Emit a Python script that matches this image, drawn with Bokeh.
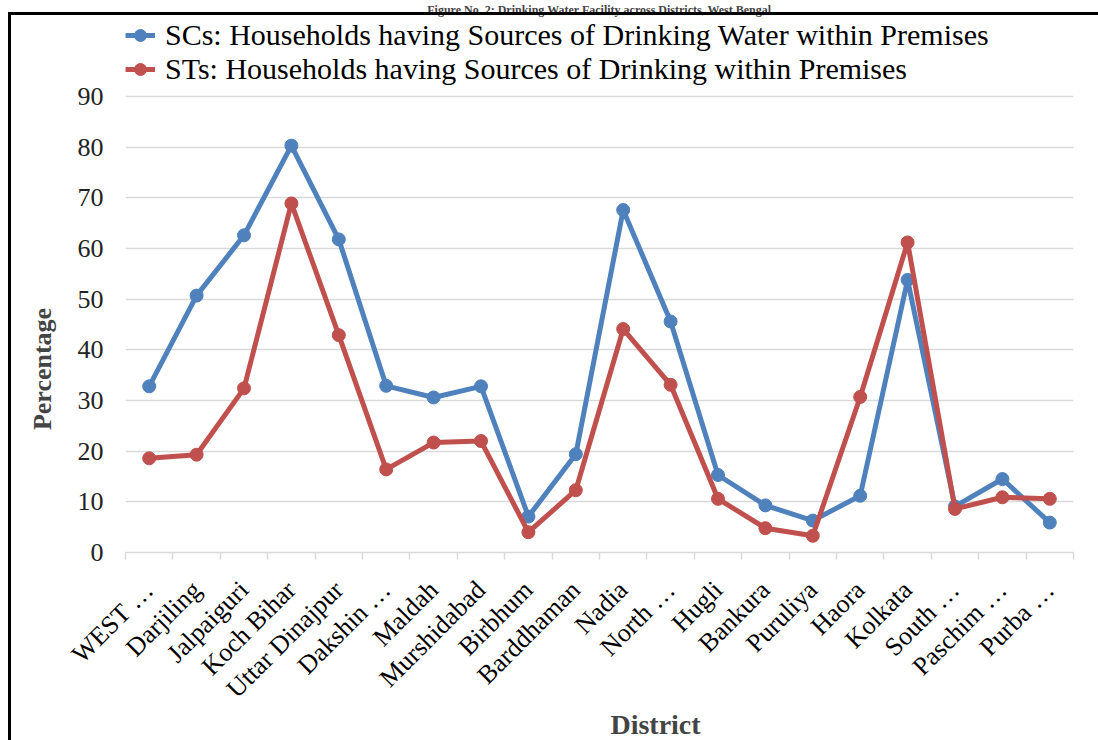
import math
from bokeh.plotting import figure
from bokeh.models import (Range1d, FixedTicker, Legend, LegendItem, ColumnDataSource,
                          InlineStyleSheet, Title)
from bokeh.embed import file_html
from bokeh.resources import INLINE

districts = ["WEST \u2026", "Darjiling", "Jalpaiguri", "Koch Bihar", "Uttar Dinajpur",
             "Dakshin \u2026", "Maldah", "Murshidabad", "Birbhum", "Barddhaman", "Nadia",
             "North \u2026", "Hugli", "Bankura", "Puruliya", "Haora", "Kolkata",
             "South \u2026", "Paschim \u2026", "Purba \u2026"]
sc_values = [32.8, 50.7, 62.6, 80.3, 61.8, 32.9, 30.6, 32.8, 7.1, 19.4, 67.6,
             45.6, 15.3, 9.3, 6.3, 11.2, 53.8, 9.1, 14.5, 5.9]
st_values = [18.6, 19.3, 32.4, 68.9, 42.9, 16.4, 21.7, 22.0, 4.0, 12.3, 44.1,
             33.1, 10.6, 4.8, 3.3, 30.7, 61.2, 8.6, 10.9, 10.6]
y_ticks = [0, 10, 20, 30, 40, 50, 60, 70, 80, 90]

title_text = "Figure No. 2: Drinking Water Facility across Districts, West Bengal"
sc_label = "SCs: Households having Sources of Drinking Water within Premises"
st_label = "STs: Households having Sources of Drinking within Premises"

BLUE = "#4F81BD"
RED = "#C0504D"
GRID = "#D9D9D9"
FONT = "Liberation Serif"
NB = "\u00a0"

xs = list(range(len(districts)))
src = ColumnDataSource(dict(x=xs, sc=sc_values, st=st_values))

css = InlineStyleSheet(css="""
:host { overflow: hidden; }
:host::after { content: ""; position: absolute; left: 8px; top: 12px; width: 3px; height: 728px; background: black; z-index: 10; }
:host::before { content: ""; position: absolute; left: 8px; top: 12px; width: 1090px; height: 3px; background: black; z-index: 10; }
""")

# frame spans from canvas y=15 (top) to y=551 (value 0); value 90 sits at y~95
FRAME_TOP, FRAME_BOTTOM = 15, 551
px_per_unit = (FRAME_BOTTOM - 95) / 90.0
y_top = (FRAME_BOTTOM - FRAME_TOP) / px_per_unit

p = figure(frame_width=948, frame_height=FRAME_BOTTOM - FRAME_TOP,
           output_backend="svg", toolbar_location=None,
           x_range=Range1d(-0.5, len(districts) - 0.5), y_range=Range1d(0, y_top),
           min_border_left=125, min_border_right=25, min_border_top=FRAME_TOP,
           min_border_bottom=180, stylesheets=[css])
p.outline_line_color = None
p.background_fill_color = "white"
p.border_fill_color = "white"

p.title = Title(text=title_text, align="center", text_font=FONT,
                text_font_style="bold", text_font_size="12px", standoff=0)

# grid
p.xgrid.grid_line_color = None
p.ygrid.grid_line_color = GRID
p.ygrid.grid_line_width = 1.5

# y axis
p.yaxis.ticker = FixedTicker(ticks=y_ticks)
p.yaxis.axis_line_color = None
p.yaxis.major_tick_line_color = None
p.yaxis.minor_tick_line_color = None
p.yaxis.major_tick_out = 0
p.yaxis.minor_tick_out = 0
p.yaxis.major_label_standoff = 22
p.yaxis.major_label_text_font = FONT
p.yaxis.major_label_text_font_size = "26px"
p.yaxis.major_label_text_color = "#222222"
p.yaxis.axis_label = "Percentage" + NB * 26
p.yaxis.axis_label_text_font = FONT
p.yaxis.axis_label_text_font_style = "bold"
p.yaxis.axis_label_text_font_size = "26px"
p.yaxis.axis_label_standoff = 18

# x axis
p.xaxis.ticker = FixedTicker(ticks=xs, minor_ticks=[i - 0.5 for i in range(len(districts) + 1)])
p.xaxis.major_label_overrides = {i: d for i, d in enumerate(districts)}
p.xaxis.major_label_orientation = math.pi / 4
p.xaxis.major_label_text_font = FONT
p.xaxis.major_label_text_font_size = "26px"
p.xaxis.major_label_text_color = "black"
p.xaxis.major_label_standoff = 26
p.xaxis.axis_line_color = GRID
p.xaxis.axis_line_width = 1.5
p.xaxis.major_tick_line_color = None
p.xaxis.major_tick_out = 0
p.xaxis.major_tick_in = 0
p.xaxis.minor_tick_line_color = GRID
p.xaxis.minor_tick_line_width = 1.5
p.xaxis.minor_tick_in = 0
p.xaxis.minor_tick_out = 7
p.xaxis.axis_label = NB * 16 + "District"
p.xaxis.axis_label_text_font = FONT
p.xaxis.axis_label_text_font_style = "bold"
p.xaxis.axis_label_text_font_size = "28px"
p.xaxis.axis_label_standoff = -8

l1 = p.line("x", "sc", source=src, line_color=BLUE, line_width=5)
s1 = p.scatter("x", "sc", source=src, size=13, fill_color=BLUE, line_color=BLUE)
l2 = p.line("x", "st", source=src, line_color=RED, line_width=5)
s2 = p.scatter("x", "st", source=src, size=13, fill_color=RED, line_color=RED)

legend = Legend(items=[LegendItem(label=sc_label, renderers=[l1, s1]),
                       LegendItem(label=st_label, renderers=[l2, s2])],
                location=(0, 466), orientation="vertical",
                label_text_font=FONT, label_text_font_size="30px",
                label_text_color="black",
                glyph_width=30, glyph_height=30, label_height=30, spacing=-4,
                label_standoff=10, padding=0, margin=0,
                border_line_color=None, background_fill_alpha=0)
p.add_layout(legend, "center")

open("out.html", "w").write(file_html(p, INLINE))
